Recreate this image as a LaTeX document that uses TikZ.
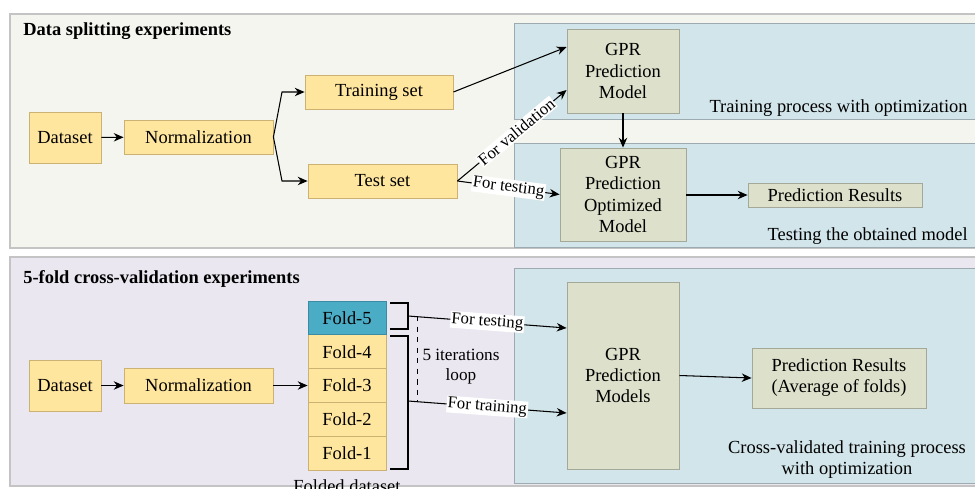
\documentclass[tikz,border=0pt]{standalone}
\usepackage{fontspec}
\setmainfont{Liberation Serif}
\usepackage{tikz}
\usetikzlibrary{arrows.meta}

\definecolor{panelA}{HTML}{F3F5EE}
\definecolor{panelB}{HTML}{EAE7F0}
\definecolor{panelline}{HTML}{C4C4C4}
\definecolor{regionfill}{HTML}{D2E5EA}
\definecolor{regionline}{HTML}{9DABB1}
\definecolor{goldfill}{HTML}{FFE69F}
\definecolor{goldline}{HTML}{CDB173}
\definecolor{tealfill}{HTML}{4BACC6}
\definecolor{tealline}{HTML}{3A8CA3}
\definecolor{olivefill}{HTML}{DDE0CA}
\definecolor{oliveline}{HTML}{A3A898}

\tikzset{
	databox/.style={draw=goldline, fill=goldfill, line width=0.5pt,
		inner sep=0pt, align=center},
	modelbox/.style={draw=oliveline, fill=olivefill, line width=0.5pt,
		inner sep=0pt, align=center},
	regionbox/.style={draw=regionline, fill=regionfill, line width=0.5pt},
	panelbox/.style={draw=panelline, line width=0.6pt},
	lbl/.style={fill=white, inner sep=0.6pt, sloped,
		font=\fontsize{9.5}{10}\selectfont},
	title/.style={anchor=west, font=\fontsize{10.5}{12}\selectfont\bfseries},
}

\begin{document}
\begin{tikzpicture}[x=0.02cm, y=-0.02cm, font=\fontsize{10.5}{12}\selectfont,
		>={Stealth[length=5.6pt,width=4.8pt]}, line width=0.6pt]
	\useasboundingbox (0,0) rectangle (975,488);

	% panels and regions
	\path[panelbox, fill=panelA] (10,14) rectangle (990,248);
	\path[panelbox, fill=panelB] (10,257) rectangle (990,486);
	\path[regionbox] (514,23) rectangle (985,119);
	\path[regionbox] (514,143) rectangle (985,247);
	\path[regionbox] (514,268) rectangle (985,483);

	\node[title] (t1) at (17,31) {Data splitting experiments};
	\node[title] (t2) at (17,279) {5-fold cross-validation experiments};

	% data splitting
	\node[databox, minimum width=1.44cm, minimum height=1.02cm] (ds1) at (65,137.5) {Dataset};
	\node[databox, minimum width=2.98cm, minimum height=0.68cm] (nm1) at (198.5,137) {Normalization};
	\node[databox, minimum width=2.96cm, minimum height=0.68cm] (tr) at (379,92) {Training set};
	\node[databox, minimum width=2.98cm, minimum height=0.68cm] (ts) at (382.5,181) {Test set};
	\node[modelbox, minimum width=2.24cm, minimum height=1.68cm] (gpr1) at (623,71)
		{GPR\\Prediction\\Model};
	\node[modelbox, minimum width=2.52cm, minimum height=1.86cm] (gpr2) at (623,194.5)
		{GPR\\Prediction\\Optimized\\Model};
	\node[modelbox, minimum width=3.48cm, minimum height=0.48cm] (res1) at (835,195)
		{Prediction Results};
	\node[anchor=east] (r1) at (974,108) {Training process with optimization};
	\node[anchor=east] (r2) at (974,236) {Testing the obtained model};

	\coordinate (b1) at (282,92);
	\coordinate (b2) at (282,181);
	\draw[->] (ds1) -- (nm1);
	\draw[->] (nm1.east) -- (b1) -- (tr.west);
	\draw[->] (nm1.east) -- (b2) -- (ts.west);
	\draw[->] (tr.east) -- ([yshift=0.48cm]gpr1.west);
	\draw[->] (ts.east) -- node[lbl, pos=0.54]{For validation} ([yshift=-0.38cm]gpr1.west);
	\draw[->] (ts.east) -- node[lbl, pos=0.5]{For testing} (gpr2.west);
	\draw[->] (gpr1) -- (gpr2);
	\draw[->] (gpr2.east |- res1) -- (res1);

	% cross-validation
	\node[databox, minimum width=1.44cm, minimum height=1.02cm] (ds2) at (65,385.5) {Dataset};
	\node[databox, minimum width=2.98cm, minimum height=0.7cm] (nm2) at (198.5,385.5) {Normalization};
	\foreach \i in {1,...,5}
		\node[databox, minimum width=1.56cm, minimum height=0.676cm] (f\i)
			at (347,{470-(\i-0.5)*33.8}) {Fold-\i};
	\node[databox, fill=tealfill, draw=tealline, minimum width=1.56cm,
		minimum height=0.676cm] at (f5) {Fold-5};
	\node (fd) at (347,486) {Folded dataset};
	\node[modelbox, minimum width=2.24cm, minimum height=3.74cm] (gpr3) at (623,375.5)
		{GPR\\Prediction\\Models};
	\node[modelbox, minimum width=3.48cm, minimum height=1.2cm] (res2) at (839,378)
		{Prediction Results\\(Average of folds)};
	\node[align=center] (r3) at (847,459.5) {Cross-validated training process\\with optimization};
	\node[align=center, font=\fontsize{9.8}{11.5}\selectfont] (loop) at (461,367)
		{5 iterations\\loop};

	\draw[->] (ds2) -- (nm2);
	\draw[->] (nm2) -- (f3);
	\draw (390,303) -- (408,303) -- (408,329) -- (390,329);
	\draw (390,336) -- (408,336) -- (408,469) -- (390,469);
	\coordinate (bt) at (408,316);
	\coordinate (bb) at (408,401);
	\draw[dashed, line width=0.5pt] (417,316) -- (417,401);
	\draw[->] (bt) -- node[lbl]{For testing} ([yshift=0.95cm]gpr3.west);
	\draw[->] (bb) -- node[lbl]{For training} ([yshift=-0.75cm]gpr3.west);
	\draw[->] (gpr3.east) -- (res2.west);
\end{tikzpicture}
\end{document}
